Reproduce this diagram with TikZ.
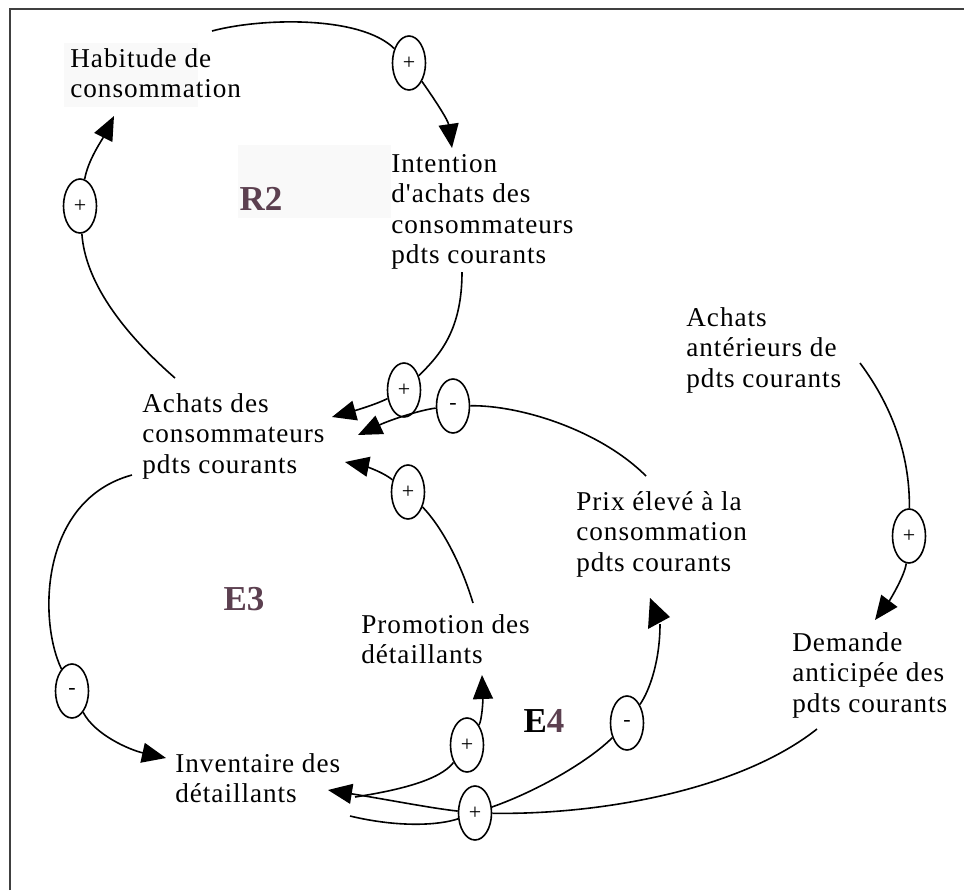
\documentclass[tikz,border=0pt]{standalone}
\usepackage{fontspec}
\setmainfont{Liberation Serif}
\newfontfamily\vartext[LetterSpace=3.5]{Liberation Serif}
\usetikzlibrary{arrows.meta,shapes.geometric}
\definecolor{loopcol}{RGB}{92,64,80}
\definecolor{hazecol}{RGB}{249,249,249}

\begin{document}
\begin{tikzpicture}[x=0.5pt,y=-0.5pt,
  var/.style={anchor=west, align=left, inner sep=0pt,
    font={\vartext\fontsize{13.6pt}{15.25pt}\selectfont}},
  looplabel/.style={inner sep=0pt, text=loopcol,
    font={\bfseries\fontsize{17.5pt}{20pt}\selectfont}},
  pol/.style={draw, ellipse, minimum width=16.5pt, minimum height=27pt,
    inner sep=0pt, line width=0.8pt, fill=white,
    font={\fontsize{11pt}{13pt}\selectfont}},
  link/.style={line width=0.8pt},
  arr/.style={link, -{Triangle[length=12pt,width=10pt]}},
]
\useasboundingbox (0,0) rectangle (964,890);

% frame (top and left edges only)
\draw[line width=0.7pt, black!75] (10,890) -- (10,9) -- (964,9);

% light shaded patches behind two labels
\fill[hazecol] (64,43) rectangle (198,107);
\fill[hazecol] (238,145) rectangle (391,218);

% variables
\node[var] (habit) at (70,73)    {Habitude de\\consommation};
\node[var] (intent) at (391,212) {Intention\\d'achats des\\consommateurs\\pdts courants};
\node[var] (achats) at (142,436) {Achats des\\consommateurs\\pdts courants};
\node[var] (anter) at (686,350)  {Achats\\antérieurs de\\pdts courants};
\node[var] (prix) at (576,534)   {Prix élevé à la\\consommation\\pdts courants};
\node[var] (promo) at (361,639)  {Promotion des\\détaillants};
\node[var] (demande) at (792,675) {Demande\\anticipée des\\pdts courants};
\node[var] (invent) at (175,778) {Inventaire des\\détaillants};

% loop labels
\node[looplabel] (R2) at (261,199) {R2};
\node[looplabel] (E3) at (244,599) {E3};
\node[looplabel] (E4) at (544,721) {{\color{black}E}4};

% polarity marks
\node[pol] (e1) at (409,63)  {+};
\node[pol] (e2) at (80,206)  {+};
\node[pol] (e3) at (404,390) {+};
\node[pol] (e4) at (453,406) {-};
\node[pol] (e5) at (408,492) {+};
\node[pol] (e6) at (72,691)  {-};
\node[pol] (e7) at (467,745) {+};
\node[pol] (e8) at (627,723) {-};
\node[pol] (e9) at (475,813) {+};
\node[pol] (e10) at (909,536) {+};

% connector ends
\coordinate (sA) at (212,31);
\coordinate (tA) at (452,148);
\coordinate (sB) at (462,272);
\coordinate (tB) at (332,417);
\coordinate (sC) at (646,476);
\coordinate (tC) at (358,435);
\coordinate (sD) at (473,603);
\coordinate (tD) at (345,462);
\coordinate (sE) at (175,378);
\coordinate (tE) at (114,116);
\coordinate (sF) at (132,475);
\coordinate (tF) at (166,758);
\coordinate (sG) at (355,797);
\coordinate (tG) at (482,675);
\coordinate (sH) at (817,729);
\coordinate (tH) at (328,790);
\coordinate (sI) at (350,816);
\coordinate (tJ) at (660,624);
\coordinate (sK) at (860,363);
\coordinate (tK) at (875,620);

% Habitude -> Intention
\draw[link] (sA) .. controls (260,18) and (360,15) .. (e1);
\draw[arr] (e1) .. controls (435,100) and (448,120) .. (tA);
% Intention -> Achats
\draw[link] (sB) .. controls (462,330) and (440,355) .. (e3);
\draw[arr] (e3) .. controls (375,405) and (350,412) .. (tB);
% Prix -> Achats
\draw[link] (sC) .. controls (600,430) and (520,405) .. (e4);
\draw[arr] (e4) .. controls (420,410) and (390,420) .. (tC);
% Promotion -> Achats
\draw[link] (sD) .. controls (460,560) and (440,525) .. (e5);
\draw[arr] (e5) .. controls (380,470) and (360,465) .. (tD);
% Achats -> Habitude
\draw[link] (sE) .. controls (120,330) and (85,280) .. (e2);
\draw[arr] (e2) .. controls (88,160) and (102,140) .. (tE);
% Achats -> Inventaire
\draw[link] (sF) .. controls (40,500) and (38,620) .. (e6);
\draw[arr] (e6) .. controls (95,735) and (130,750) .. (tF);
% Inventaire -> Promotion
\draw[link] (sG) .. controls (400,790) and (440,780) .. (e7);
\draw[arr] (e7) .. controls (482,720) and (483,700) .. (tG);
% Demande -> Inventaire
\draw[link] (sH) .. controls (740,790) and (600,815) .. (e9);
\draw[arr] (e9) .. controls (430,808) and (390,800) .. (tH);
\draw[link] (sI) .. controls (400,828) and (440,825) .. (e9);
% towards Prix
\draw[link] (e9) .. controls (540,790) and (590,760) .. (e8);
\draw[link] (e8) .. controls (650,690) and (660,660) .. (tJ);
\fill (650,598) -- (670,617) -- (648,629) -- cycle;
% Achats antérieurs -> Demande
\draw[link] (sK) .. controls (895,410) and (910,460) .. (e10);
\draw[arr] (e10) .. controls (905,575) and (890,600) .. (tK);
\end{tikzpicture}
\end{document}
